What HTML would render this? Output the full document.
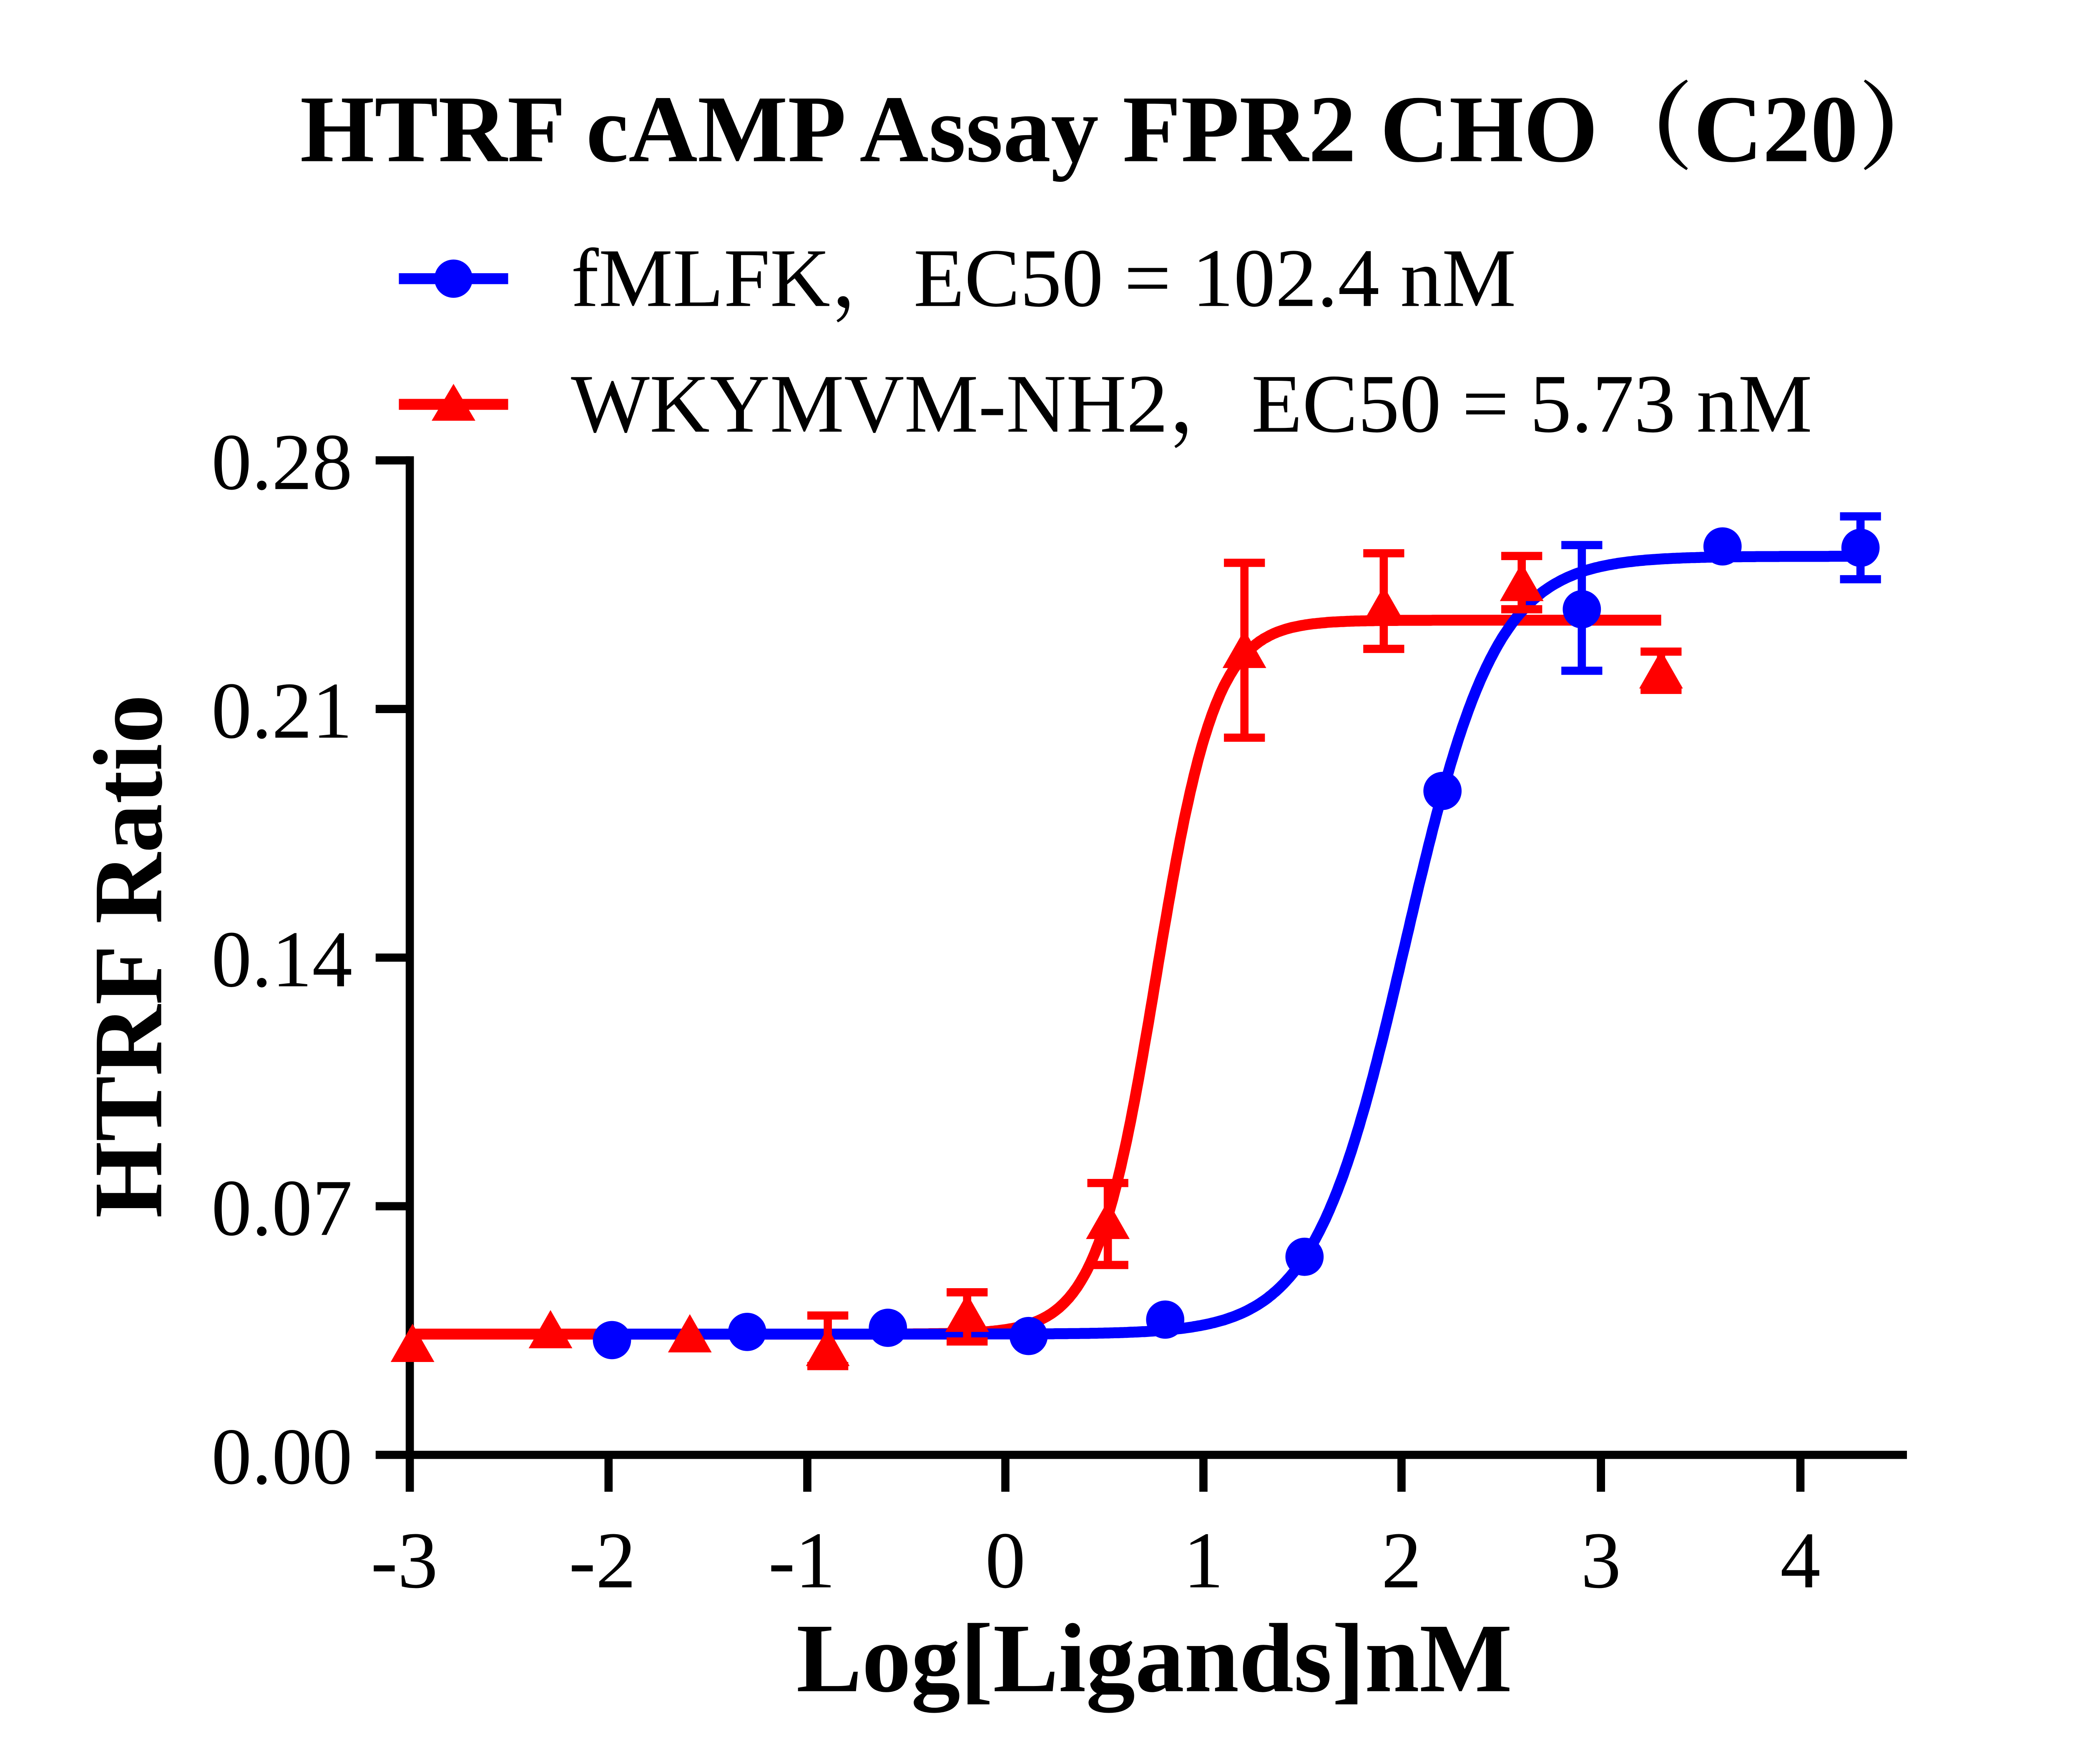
<!DOCTYPE html>
<html><head><meta charset="utf-8"><style>
html,body{margin:0;padding:0;background:#fff;}
svg{display:block;}
text{font-family:"Liberation Serif","Noto Serif CJK SC",serif;fill:#000;}
</style></head><body>
<svg id="s" width="5084" height="4230" viewBox="0 0 1552 1291.3" xmlns="http://www.w3.org/2000/svg">
<rect width="1552" height="1292" fill="#fff"/>
<text x="825" y="118" font-size="70" font-weight="bold" text-anchor="middle">HTRF cAMP Assay FPR2 CHO（C20）</text>
<!-- legend -->
<line x1="292" y1="204" x2="372" y2="204" stroke="#0000ff" stroke-width="8"/>
<circle cx="332" cy="204" r="14" fill="#0000ff"/>
<text x="418" y="224" font-size="61">fMLFK，EC50 = 102.4 nM</text>
<line x1="292" y1="296" x2="372" y2="296" stroke="#ff0000" stroke-width="8"/>
<polygon points="332,281 348,308 316,308" fill="#ff0000"/>
<text x="418" y="316" font-size="61">WKYMVM-NH2，EC50 = 5.73 nM</text>
<!-- axes -->
<g stroke="#000" stroke-width="6" fill="none">
<line x1="300" y1="334" x2="300" y2="1068"/>
<line x1="297" y1="1065" x2="1396" y2="1065"/>
<line x1="275" y1="337" x2="300" y2="337"/>
<line x1="275" y1="519" x2="300" y2="519"/>
<line x1="275" y1="701" x2="300" y2="701"/>
<line x1="275" y1="883" x2="300" y2="883"/>
<line x1="275" y1="1065" x2="300" y2="1065"/>
<line x1="300" y1="1065" x2="300" y2="1092"/>
<line x1="445.5" y1="1065" x2="445.5" y2="1092"/>
<line x1="591" y1="1065" x2="591" y2="1092"/>
<line x1="736" y1="1065" x2="736" y2="1092"/>
<line x1="881" y1="1065" x2="881" y2="1092"/>
<line x1="1026" y1="1065" x2="1026" y2="1092"/>
<line x1="1172" y1="1065" x2="1172" y2="1092"/>
<line x1="1318" y1="1065" x2="1318" y2="1092"/>
</g>
<g font-size="59" text-anchor="end">
<text x="258" y="358">0.28</text>
<text x="258" y="540">0.21</text>
<text x="258" y="722">0.14</text>
<text x="258" y="904">0.07</text>
<text x="258" y="1086">0.00</text>
</g>
<g font-size="59" text-anchor="middle">
<text x="296" y="1162">-3</text>
<text x="441" y="1162">-2</text>
<text x="587" y="1162">-1</text>
<text x="736" y="1162">0</text>
<text x="881" y="1162">1</text>
<text x="1026" y="1162">2</text>
<text x="1172" y="1162">3</text>
<text x="1318" y="1162">4</text>
</g>
<text x="845" y="1238" font-size="72" font-weight="bold" text-anchor="middle">Log[Ligands]nM</text>
<text transform="translate(118,700) rotate(-90)" font-size="72" font-weight="bold" text-anchor="middle">HTRF Ratio</text>
<g id="plot"></g>
</svg>
<script>
var NS="http://www.w3.org/2000/svg",g=document.getElementById("plot");
function X(v){return 736+145.5*v;}function Y(v){return 1065-2600*v;}
function curve(b,t,ec,h,x0,x1,col){var p=[];for(var x=x0;x<=x1+1e-9;x+=0.01){var y=b+(t-b)/(1+Math.pow(10,(ec-x)*h));p.push(X(x).toFixed(1)+","+Y(y).toFixed(1));}
var e=document.createElementNS(NS,"polyline");e.setAttribute("points",p.join(" "));e.setAttribute("fill","none");e.setAttribute("stroke",col);e.setAttribute("stroke-width","8");g.appendChild(e);}
function err(x,y1,y2,col){var d="M"+x+","+y1+"V"+y2+"M"+(x-15)+","+y1+"H"+(x+15)+"M"+(x-15)+","+y2+"H"+(x+15);var e=document.createElementNS(NS,"path");e.setAttribute("d",d);e.setAttribute("stroke",col);e.setAttribute("stroke-width","6");e.setAttribute("fill","none");g.appendChild(e);}
curve(0.034,0.235,0.758,2.9,-3,3.3,"#ff0000");
curve(0.034,0.253,2.01,1.9,-2,4.3,"#0000ff");
[[606,963,1000],[708,946,982],[811,866,926],[911,412,540],[1013,405,475],[1114,407,446],[1216,477,505]].forEach(function(a){err(a[0],a[1],a[2],"#ff0000");});
[[302,985],[403,975],[505,978],[606,988],[708,963],[811,895],[911,477],[1013,445],[1114,428],[1216,492]].forEach(function(a){var e=document.createElementNS(NS,"polygon");e.setAttribute("points",a[0]+","+(a[1]-16)+" "+(a[0]+16)+","+(a[1]+12)+" "+(a[0]-16)+","+(a[1]+12));e.setAttribute("fill","#ff0000");g.appendChild(e);});
err(1158,399,491,"#0000ff");err(1362,378,424,"#0000ff");
[[448,981],[547,975],[650,972],[753,978],[853,966],[955,920],[1056,579],[1158,446],[1261,400],[1362,401]].forEach(function(a){var e=document.createElementNS(NS,"circle");e.setAttribute("cx",a[0]);e.setAttribute("cy",a[1]);e.setAttribute("r","14");e.setAttribute("fill","#0000ff");g.appendChild(e);});
</script>
</body></html>
